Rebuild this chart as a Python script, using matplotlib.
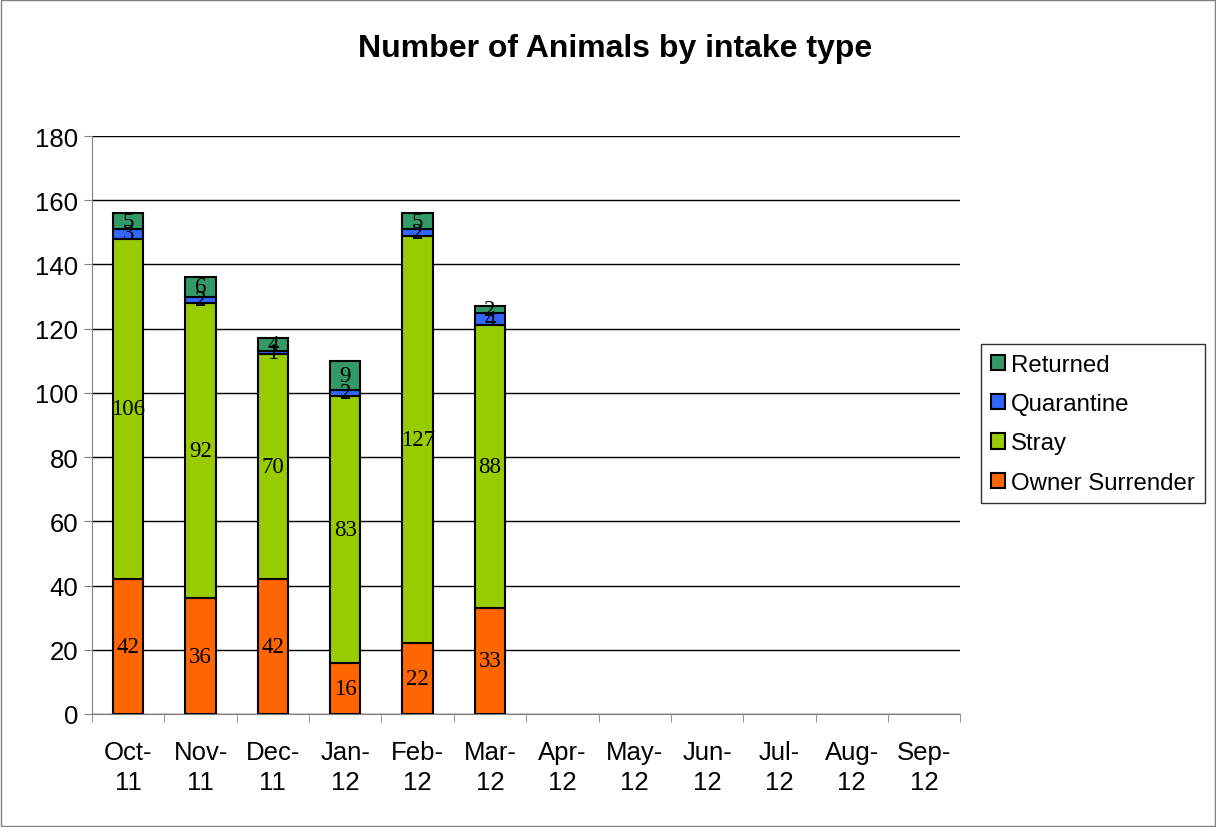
import numpy as np
import matplotlib.pyplot as plt

months = ["Oct-\n11", "Nov-\n11", "Dec-\n11", "Jan-\n12", "Feb-\n12", "Mar-\n12",
          "Apr-\n12", "May-\n12", "Jun-\n12", "Jul-\n12", "Aug-\n12", "Sep-\n12"]
owner = [42, 36, 42, 16, 22, 33]
stray = [106, 92, 70, 83, 127, 88]
quarantine = [3, 2, 1, 2, 2, 4]
returned = [5, 6, 4, 9, 5, 2]

series = [("Owner Surrender", owner, "#FF6600"),
          ("Stray", stray, "#99CC00"),
          ("Quarantine", quarantine, "#3366FF"),
          ("Returned", returned, "#339966")]

plt.rcParams['font.family'] = ['Liberation Sans', 'DejaVu Sans']

fig = plt.figure(figsize=(12.16, 8.28), dpi=100)
ax = fig.add_axes([0.0757, 0.1365, 0.714, 0.698])

x = np.arange(len(owner))
bottom = np.zeros(len(owner))
handles = []
for name, vals, col in series:
    b = ax.bar(x, vals, 0.42, bottom=bottom, color=col, edgecolor='black',
               linewidth=1.5, label=name, zorder=3)
    handles.append(b)
    for xi, v, b0 in zip(x, vals, bottom):
        ax.text(xi, b0 + v / 2, str(v), ha='center', va='center',
                fontsize=16.5, family='Liberation Serif', zorder=4)
    bottom = bottom + np.array(vals)

ax.set_xlim(-0.5, len(months) - 0.5)
ax.set_ylim(0, 180)
ax.set_yticks(range(0, 181, 20))
ax.set_xticks(np.arange(len(months)))
ax.set_xticklabels(months, fontsize=18.5, linespacing=1.3)
ax.set_xticks(np.arange(len(months) + 1) - 0.5, minor=True)
ax.tick_params(axis='x', which='major', length=0, pad=19)
ax.tick_params(axis='x', which='minor', length=6, color='#808080')
ax.tick_params(axis='y', labelsize=18.5, length=6, color='#808080', pad=4)
ax.grid(axis='y', color='black', linewidth=1, zorder=0)
for s in ['top', 'right']:
    ax.spines[s].set_visible(False)
ax.spines['left'].set_color('#808080')
ax.spines['bottom'].set_color('#808080')

fig.text(0.506, 0.941, "Number of Animals by intake type", fontsize=23,
         fontweight='bold', ha='center', va='center')

leg = fig.legend(handles[::-1], [s[0] for s in series][::-1],
                 loc='center left', bbox_to_anchor=(0.807, 0.487),
                 fontsize=17.3, frameon=True, fancybox=False, edgecolor='black',
                 handlelength=0.6, handleheight=0.6, handletextpad=0.25,
                 labelspacing=0.72, borderpad=0.4, borderaxespad=0)
leg.get_frame().set_linewidth(1)

fig.patches.append(plt.Rectangle((0.001, 0.001), 0.998, 0.998, transform=fig.transFigure,
                                 fill=False, edgecolor='#808080', linewidth=1))

fig.savefig("out.png", dpi=100)
